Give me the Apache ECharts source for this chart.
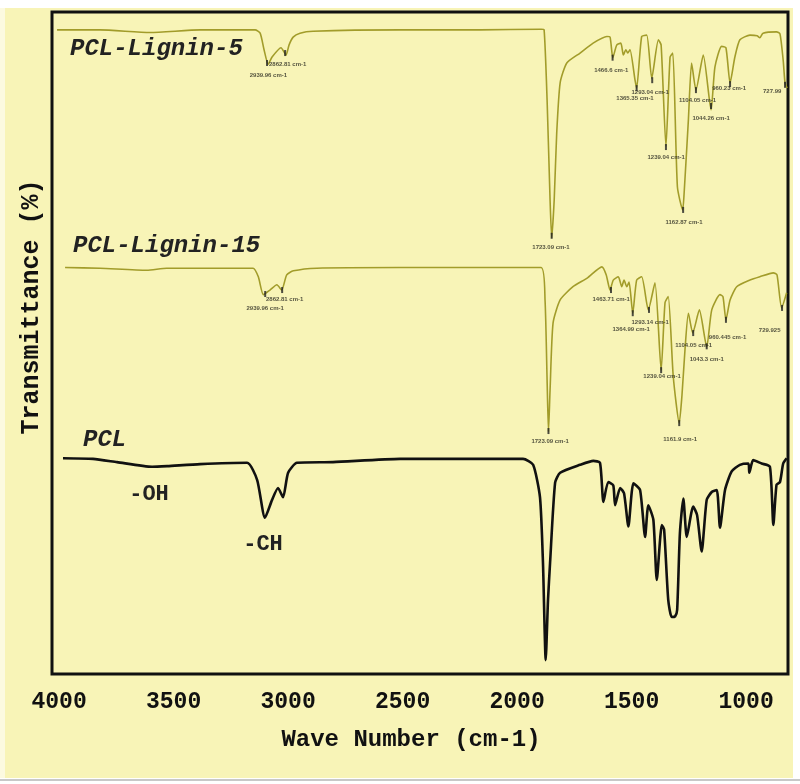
<!DOCTYPE html>
<html><head><meta charset="utf-8">
<script src="https://cdn.jsdelivr.net/npm/echarts@6/dist/echarts.min.js"></script>
<style>html,body{margin:0;padding:0;background:#fff}#c{width:800px;height:784px}</style>
</head><body><div id="c"></div>
<script>
// x: wave number (cm-1), y: transmittance (stacked, arbitrary %)
const xTicks = [4000, 3500, 3000, 2500, 2000, 1500, 1000];

const lignin5 = [[4009,97.3],[3821,97.3],[3603,96.9],[3384,97.3],[3144,97.3],[3122,96.8],[3105,94.3],[3087,92.1],[3070,93.2],[3031,94.6],[3009,93.5],[2996,95.0],[2978,96.2],[2948,96.8],[2891,97.1],[2511,97.3],[2162,97.3],[1895,97.4],[1882,97.3],[1869,86.7],[1856,71.6],[1849,65.9],[1838,71.6],[1827,81.7],[1812,89.3],[1783,92.3],[1725,93.8],[1668,95.3],[1608,96.3],[1594,96.2],[1582,93.1],[1565,95.0],[1547,95.3],[1536,93.5],[1525,94.3],[1517,93.8],[1507,94.3],[1485,89.7],[1478,88.5],[1456,96.3],[1434,96.5],[1412,90.0],[1383,95.8],[1371,95.0],[1350,79.7],[1332,93.2],[1320,93.8],[1300,73.6],[1277,70.1],[1271,72.4],[1252,83.7],[1238,92.3],[1219,88.2],[1187,93.5],[1153,85.2],[1136,91.7],[1107,94.8],[1088,94.6],[1070,89.3],[1049,93.2],[1027,95.8],[983,96.5],[952,96.4],[940,96.1],[926,96.8],[867,97.0],[852,96.7],[838,92.7],[830,89.3],[821,88.5]];

const lignin15 = [[3974,61.4],[3821,61.3],[3617,61.0],[3530,61.3],[3153,61.3],[3130,60.0],[3108,57.3],[3079,58.0],[3049,58.8],[3028,58.0],[3006,60.3],[2977,60.9],[2875,61.3],[2511,61.4],[1895,61.4],[1878,56.5],[1869,44.4],[1863,36.6],[1856,42.9],[1843,53.0],[1812,56.5],[1756,58.5],[1694,59.8],[1630,61.5],[1611,60.3],[1594,58.0],[1580,59.5],[1558,60.0],[1543,58.5],[1533,59.5],[1521,58.5],[1511,59.2],[1495,54.5],[1478,59.5],[1456,60.0],[1427,55.0],[1398,59.1],[1371,45.9],[1354,56.1],[1340,57.0],[1318,44.9],[1292,37.9],[1280,42.1],[1267,48.9],[1252,54.5],[1233,51.5],[1204,55.0],[1172,49.4],[1150,55.0],[1114,57.3],[1101,57.0],[1088,53.5],[1070,56.5],[1041,58.5],[983,59.5],[940,60.0],[881,60.6],[865,60.3],[845,55.3],[823,57.6]];

const pcl = [[3983,32.6],[3852,32.5],[3747,32.0],[3594,31.3],[3528,31.4],[3384,31.7],[3179,31.9],[3135,29.3],[3101,23.6],[3070,26.3],[3044,28.1],[3022,26.7],[3000,30.4],[2961,31.9],[2804,32.0],[2511,32.5],[1974,32.5],[1930,31.6],[1900,26.7],[1887,16.8],[1875,2.1],[1865,11.2],[1856,16.8],[1834,28.9],[1812,30.4],[1725,31.6],[1667,32.2],[1638,31.9],[1623,26.0],[1602,29.0],[1580,28.5],[1572,25.5],[1550,28.1],[1533,27.3],[1514,22.3],[1492,28.8],[1463,27.8],[1441,20.7],[1427,25.5],[1405,23.3],[1390,14.2],[1368,22.5],[1358,21.8],[1340,11.2],[1325,8.6],[1310,8.7],[1301,9.7],[1289,21.3],[1274,26.5],[1259,20.7],[1231,25.3],[1214,24.0],[1194,18.5],[1172,26.3],[1150,27.5],[1128,27.8],[1114,22.1],[1092,27.8],[1063,30.6],[1027,31.6],[990,31.8],[986,30.4],[969,32.3],[932,31.8],[896,31.3],[881,22.5],[867,28.6],[852,29.0],[838,31.8],[823,32.6]];

// peak markers (position of the minimum)
const marks5 = [[3092,92.3],[3013,93.8],[1849,66.2],[1583,93.1],[1478,88.5],[1410,89.7],[1350,79.6],[1275,70.1],[1219,88.2],[1153,85.8],[1070,89.1],[830,89.0]];
const marks15 = [[3100,57.4],[3026,58.0],[1863,36.7],[1590,58.0],[1495,54.5],[1424,55.0],[1371,45.9],[1292,37.9],[1231,51.5],[1172,49.5],[1088,53.5],[843,55.3]];

// peak annotation texts and where they sit
const labels5 = [[3002,92.1,'2862.81 cm-1'],[3086,90.5,'2939.96 cm-1'],[1852,64.4,'1723.09 cm-1'],[1589,91.2,'1466.6 cm-1'],[1485,86.9,'1365.35 cm-1'],[1419,87.8,'1293.04 cm-1'],[1349,78.1,'1239.04 cm-1'],[1271,68.3,'1162.87 cm-1'],[1212,86.6,'1104.05 cm-1'],[1153,83.9,'1044.26 cm-1'],[1074,88.5,'960.23 cm-1'],[886,88.0,'727.99']];
const labels15 = [[3015,56.6,'2862.81 cm-1'],[3100,55.3,'2939.96 cm-1'],[1856,35.1,'1723.09 cm-1'],[1589,56.6,'1463.71 cm-1'],[1502,52.1,'1364.99 cm-1'],[1419,53.1,'1293.14 cm-1'],[1367,45.0,'1239.04 cm-1'],[1288,35.5,'1161.9 cm-1'],[1229,49.7,'1104.05 cm-1'],[1172,47.6,'1043.3 cm-1'],[1081,50.9,'960.445 cm-1'],[897,51.9,'729.925']];

const MONO = '"Liberation Mono", "Courier New", monospace';
const OLIVE = '#a29c2a';
const BG = '#f8f4b7';

function lineSeries(name, data, color, width) {
  return { name, type: 'line', data, showSymbol: false, smooth: 0.2, clip: true,
    lineStyle: { color, width }, z: 3, silent: true };
}
function markSeries(data) {
  return { type: 'scatter', data, symbol: 'rect', symbolSize: [2, 6], itemStyle: { color: '#222' }, z: 4, silent: true };
}
function labelSeries(data) {
  return { type: 'scatter', data, symbolSize: 0, z: 5, silent: true,
    label: { show: true, position: 'inside', formatter: p => p.data[2], fontSize: 6, fontWeight: 'bold', color: '#2a2a20', fontFamily: 'Liberation Sans' } };
}

const chart = echarts.init(document.getElementById('c'), null, { renderer: 'canvas' });
chart.setOption({
  backgroundColor: BG,
  animation: false,
  grid: { left: 52, right: 12, top: 12, bottom: 110, show: true, borderColor: '#111', borderWidth: 3, backgroundColor: 'transparent' },
  xAxis: { type: 'value', inverse: true, min: 817, max: 4031,
    axisLine: { show: false }, axisTick: { show: false }, splitLine: { show: false },
    axisLabel: { customValues: xTicks, formatter: v => String(v), fontFamily: MONO, fontWeight: 'bold', fontSize: 23, color: '#111', margin: 17 } },
  yAxis: { type: 'value', min: 0, max: 100, show: false },
  series: [
    lineSeries('PCL-Lignin-5', lignin5, OLIVE, 1.6),
    lineSeries('PCL-Lignin-15', lignin15, OLIVE, 1.6),
    lineSeries('PCL', pcl, '#111', 2.6),
    markSeries(marks5), markSeries(marks15),
    labelSeries(labels5), labelSeries(labels15)
  ],
  graphic: [
    { type: 'rect', shape: { x: 0, y: 0, width: 800, height: 8 }, style: { fill: '#fff' }, silent: true },
    { type: 'rect', shape: { x: 793, y: 0, width: 7, height: 784 }, style: { fill: '#fff' }, silent: true },
    { type: 'rect', shape: { x: 0, y: 778, width: 800, height: 6 }, style: { fill: '#fff' }, silent: true },
    { type: 'rect', shape: { x: 0, y: 779, width: 800, height: 2 }, style: { fill: '#c8c8c8' }, silent: true },
    { type: 'rect', shape: { x: 0, y: 8, width: 5, height: 770 }, style: { fill: '#fcfae0' }, silent: true },
    { type: 'text', x: 70, y: 49, style: { text: 'PCL-Lignin-5', font: 'italic bold 24px ' + MONO, fill: '#222', align: 'left', verticalAlign: 'middle' } },
    { type: 'text', x: 73, y: 246, style: { text: 'PCL-Lignin-15', font: 'italic bold 24px ' + MONO, fill: '#222', align: 'left', verticalAlign: 'middle' } },
    { type: 'text', x: 83, y: 440, style: { text: 'PCL', font: 'italic bold 24px ' + MONO, fill: '#222', align: 'left', verticalAlign: 'middle' } },
    { type: 'text', x: 149, y: 494, style: { text: '-OH', font: 'bold 22px ' + MONO, fill: '#222', align: 'center', verticalAlign: 'middle' } },
    { type: 'text', x: 263, y: 544, style: { text: '-CH', font: 'bold 22px ' + MONO, fill: '#222', align: 'center', verticalAlign: 'middle' } },
    { type: 'text', x: 411, y: 740, style: { text: 'Wave Number (cm-1)', font: 'bold 24px ' + MONO, fill: '#111', align: 'center', verticalAlign: 'middle' } },
    { type: 'text', x: 32, y: 307, rotation: Math.PI / 2, style: { text: 'Transmittance (%)', font: 'bold 25px ' + MONO, fill: '#111', align: 'center', verticalAlign: 'middle' } }
  ]
});
</script></body></html>
